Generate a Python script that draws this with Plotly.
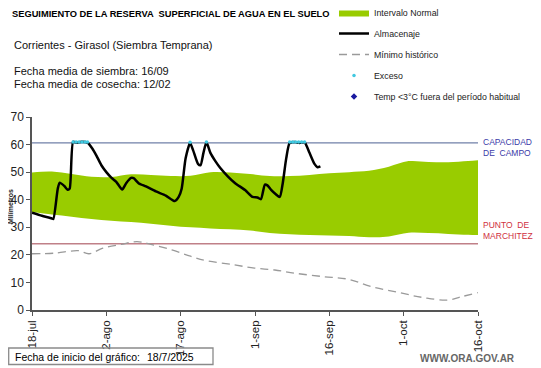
import plotly.graph_objects as go

# ---------------- data ----------------
tick_days = [0, 15, 30, 45, 60, 75, 90]
tick_labels = ["18-jul", "2-ago", "17-ago", "1-sep", "16-sep", "1-oct", "16-oct"]

band_days = [0, 4, 8, 12, 16, 20, 24, 28, 32, 36, 40, 44, 48, 52, 56, 60, 64, 68, 72, 76, 80, 84, 88, 90]
band_upper = [49.9, 50.2, 49.3, 48.3, 48.2, 49.2, 49.0, 48.6, 48.7, 50.0, 49.9, 49.3, 48.6, 48.6, 49.0, 49.6,
              50.0, 50.5, 52.0, 54.0, 53.7, 53.6, 54.0, 54.3]
band_lower = [35.5, 34.6, 33.8, 33.0, 32.4, 31.9, 31.3, 30.6, 30.0, 29.6, 29.3, 28.8, 27.9, 27.5, 27.2, 27.0,
              26.8, 26.4, 26.7, 28.0, 27.9, 27.6, 27.3, 27.2]

alm_days = [0, 2, 4, 4.3, 5.2, 5.6, 6.5, 7.2, 7.6, 8.3, 9, 10, 11.2, 12.2, 13, 14, 15, 16, 17, 18.2, 19, 20, 20.5,
            21.5, 23, 25, 27, 28.8, 29.6, 30.2, 31, 31.9, 32.5, 33.5, 34, 34.6, 35.2, 36, 37, 38, 39.5, 41, 43,
            44.5, 45.5, 46.2, 47, 47.5, 48.3, 49.2, 50, 50.6, 51.3, 52, 53, 54, 55, 56, 57, 57.6, 58.2]
alm_vals = [35.3, 34.2, 33.2, 33.0, 44.0, 46.2, 45.0, 43.6, 44.0, 61.0, 60.7, 61.0, 60.7, 58.5, 56.0, 52.5, 50.0,
            48.0, 46.5, 43.7, 46.0, 47.9, 47.8, 46.0, 44.8, 43.0, 41.5, 39.5, 41.0, 44.0, 55.0, 60.6, 58.0, 53.0,
            52.5, 57.0, 60.8, 57.0, 54.0, 51.5, 48.5, 46.0, 43.5, 41.0, 40.8, 40.2, 45.5, 45.2, 43.5, 42.0, 41.0,
            46.0, 55.0, 60.6, 60.9, 60.6, 60.8, 57.0, 53.0, 51.8, 52.1]

exc_days = [8.3, 8.9, 9.5, 10.1, 10.7, 11.2, 31.9, 35.2, 52.0, 52.6, 53.2, 53.8, 54.4, 55.0]
exc_vals = [60.9, 60.9, 60.9, 60.9, 60.9, 60.9, 60.8, 60.9, 60.9, 60.9, 60.9, 60.9, 60.9, 60.9]

min_days = [0, 4.5, 9.4, 11.5, 14.3, 18, 21.2, 24, 28.2, 32, 35.1, 40.7, 44.9, 49, 53.2, 58.8, 63.7, 68.5, 74.1,
            79, 83.9, 86.6, 90]
min_vals = [20.4, 20.6, 21.5, 20.4, 22.4, 23.8, 24.8, 23.8, 21.8, 19.5, 17.9, 16.4, 15.2, 14.5, 13.3, 12.1, 11.2,
            8.5, 6.3, 4.5, 3.6, 4.8, 6.3]

capacidad_campo = 60.6
punto_marchitez = 24.0

FONT = "Liberation Sans, Arial, sans-serif"

# page body has an 8px margin: figure is placed at (8, 8) on screen
OFF = 8
PL, PT, PW, PH = 32, 117, 446, 193  # plot area in screen pixels


def px(sx):
    return (sx - PL) / PW


def py(sy):
    return (PT + PH - sy) / PH


fig = go.Figure()

fig.add_trace(go.Scatter(x=band_days, y=band_lower, mode="lines", line=dict(width=0, color="#99CC00", shape="spline"),
                         showlegend=False, hoverinfo="skip"))
fig.add_trace(go.Scatter(x=band_days, y=band_upper, mode="lines", fill="tonexty", fillcolor="#99CC00",
                         line=dict(width=0, color="#99CC00", shape="spline"), name="Intervalo Normal",
                         legendgroup="a"))
fig.add_trace(go.Scatter(x=alm_days, y=alm_vals, mode="lines", line=dict(color="black", width=2.5, shape="spline",
                         smoothing=0.6), name="Almacenaje", legendgroup="b"))
fig.add_trace(go.Scatter(x=min_days, y=min_vals, mode="lines", line=dict(color="#9A9A9A", width=1.3, dash="8px,5px",
                         shape="spline"), name="Mínimo histórico", legendgroup="c"))
fig.add_trace(go.Scatter(x=exc_days, y=exc_vals, mode="markers", marker=dict(color="#40C8E0", size=3.5),
                         name="Exceso", legendgroup="d"))
fig.add_trace(go.Scatter(x=[None], y=[None], mode="markers", marker=dict(color="#1A1AA0", size=5, symbol="diamond"),
                         name="Temp <3°C fuera del período habitual", legendgroup="e"))

fig.add_shape(type="line", xref="paper", x0=0, x1=1, y0=capacidad_campo, y1=capacidad_campo,
              line=dict(color="#7080A8", width=1.2), layer="below")
fig.add_shape(type="line", xref="paper", x0=0, x1=1, y0=punto_marchitez, y1=punto_marchitez,
              line=dict(color="#C08088", width=1.5), layer="below")
# box around start date note
fig.add_shape(type="rect", xref="paper", yref="paper", x0=px(8.7), x1=px(213), y0=py(348), y1=py(364.5),
              line=dict(color="#8A8A8A", width=1.3), fillcolor="rgba(0,0,0,0)")

anns = [
    dict(text="<b>SEGUIMIENTO DE LA RESERVA  SUPERFICIAL DE AGUA EN EL SUELO</b>", x=10, y=14, size=9.3, color="black"),
    dict(text="Corrientes - Girasol (Siembra Temprana)", x=12, y=45, size=11, color="#111"),
    dict(text="Fecha media de siembra: 16/09", x=12, y=71, size=11, color="#111"),
    dict(text="Fecha media de cosecha: 12/02", x=12, y=84, size=11, color="#111"),
    dict(text="Fecha de inicio del gráfico:", x=13, y=356.5, size=10.5, color="black"),
    dict(text="18/7/2025", x=145, y=356.5, size=10.5, color="black"),
]
annotations = []
for a in anns:
    annotations.append(dict(text=a["text"], xref="paper", yref="paper", x=px(a["x"]), y=py(a["y"]),
                            xanchor="left", yanchor="middle", showarrow=False,
                            font=dict(family=FONT, size=a["size"], color=a["color"])))
annotations.append(dict(text="<b>Milímetros</b>", xref="paper", yref="paper", x=px(10), y=py(207),
                        xanchor="center", yanchor="middle", textangle=-90, showarrow=False,
                        font=dict(family=FONT, size=7, color="#222")))
annotations.append(dict(text="CAPACIDAD<br>DE  CAMPO", xref="paper", yref="y", x=px(481), y=59.0, xanchor="left",
                        yanchor="middle", showarrow=False, align="left",
                        font=dict(family=FONT, size=8.5, color="#3A3AA8")))
annotations.append(dict(text="PUNTO  DE<br>MARCHITEZ", xref="paper", yref="y", x=px(481), y=29.0, xanchor="left",
                        yanchor="middle", showarrow=False, align="left",
                        font=dict(family=FONT, size=8.5, color="#D03040")))
annotations.append(dict(text="<b>WWW.ORA.GOV.AR</b>", xref="paper", yref="paper", x=px(517), y=py(358),
                        xanchor="right", yanchor="middle", showarrow=False,
                        font=dict(family=FONT, size=10, color="#666")))

fig.update_layout(
    width=541 - OFF, height=368 - OFF,
    margin=dict(l=PL - OFF, r=541 - PL - PW, t=PT - OFF, b=368 - PT - PH, autoexpand=False),
    paper_bgcolor="white", plot_bgcolor="white",
    font=dict(family=FONT, size=11, color="#222"),
    annotations=annotations,
    legend=dict(x=px(334), y=py(-2), xanchor="left", yanchor="top",
                font=dict(family=FONT, size=8.8, color="#222"), tracegroupgap=2, itemwidth=30,
                bgcolor="rgba(0,0,0,0)"),
    xaxis=dict(range=[0, 90], tickvals=tick_days, ticktext=tick_labels, tickangle=-90, showgrid=False,
               zeroline=False, showline=True, linecolor="#555", linewidth=1.5, ticks="outside", ticklen=4,
               tickcolor="#555", tickfont=dict(size=11.5), automargin=False),
    yaxis=dict(range=[0, 70], tickvals=[0, 10, 20, 30, 40, 50, 60, 70], showgrid=False, zeroline=False,
               showline=True, linecolor="#555", linewidth=1.5, ticks="outside", ticklen=4, tickcolor="#555",
               tickfont=dict(size=12), automargin=False),
)

fig.write_html("out.html")
